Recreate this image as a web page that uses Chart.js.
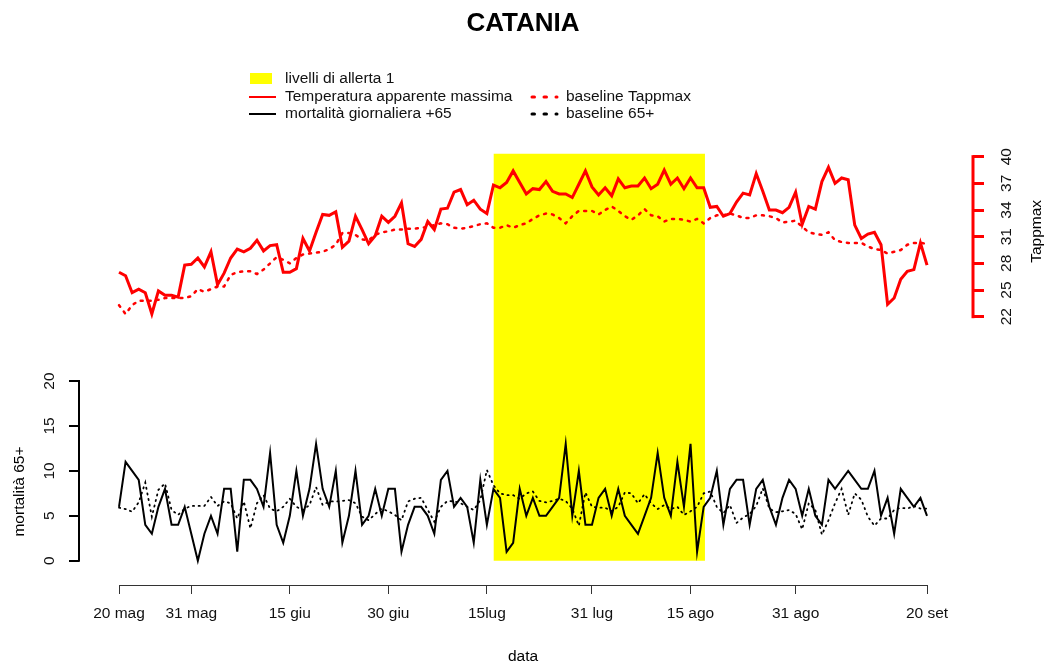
<!DOCTYPE html>
<html>
<head>
<meta charset="utf-8">
<title>CATANIA</title>
<script src="https://cdn.jsdelivr.net/npm/chart.js@4.4.1/dist/chart.umd.min.js"></script>
<style>
  html, body { margin: 0; padding: 0; background: #fff; }
  #wrap { width: 1046px; height: 663px; }
</style>
</head>
<body>
<div id="wrap"><canvas id="grafico" width="1046" height="663"></canvas></div>
<script>
// Catania, 20 maggio - 20 settembre: valori (un valore al giorno)

const tappmax = [
    27.0, 26.6, 24.7, 25.1, 24.7, 22.3, 24.9, 24.4, 24.4, 24.2,
    27.8, 27.9, 28.6, 27.6, 29.3, 25.6, 26.9, 28.6, 29.6, 29.3,
    29.7, 30.6, 29.4, 30.0, 30.1, 27.0, 27.0, 27.4, 30.8, 29.4,
    31.5, 33.5, 33.4, 33.8, 29.8, 30.5, 33.3, 31.8, 30.2, 31.1,
    33.3, 32.6, 33.3, 34.8, 30.2, 29.9, 30.7, 32.7, 31.8, 34.1,
    34.2, 36.0, 36.3, 34.6, 35.1, 34.1, 33.6, 36.8, 36.5, 37.1,
    38.4, 37.1, 35.8, 36.4, 36.3, 37.2, 36.1, 35.8, 35.8, 35.4,
    36.9, 38.4, 36.6, 35.7, 36.5, 35.6, 37.5, 36.5, 36.7, 36.7,
    37.6, 36.4, 36.9, 38.5, 36.9, 37.6, 36.4, 37.6, 36.5, 36.5,
    34.3, 34.4, 33.3, 33.6, 34.9, 35.9, 35.7, 38.1, 36.1, 34.0,
    34.0, 33.7, 34.3, 36.0, 32.4, 34.4, 34.1, 37.2, 38.8, 37.0,
    37.6, 37.4, 32.3, 30.8, 31.3, 31.5, 30.1, 23.4, 24.1, 26.2,
    27.1, 27.3, 30.3, 27.8
];

const baselineTappmax = [
    23.3, 22.3, 23.3, 23.8, 23.8, 23.8, 23.9, 24.1, 24.1, 24.1,
    24.1, 24.3, 25.1, 24.8, 25.1, 25.4, 25.4, 26.7, 27.0, 27.1,
    27.1, 26.8, 27.3, 28.0, 28.7, 28.4, 28.0, 28.6, 29.0, 29.1,
    29.2, 29.3, 29.6, 30.1, 31.4, 31.4, 31.2, 30.7, 30.6, 31.2,
    31.5, 31.6, 31.8, 31.8, 31.9, 31.9, 32.0, 32.1, 32.3, 32.5,
    32.4, 32.0, 31.9, 32.0, 32.2, 32.4, 32.5, 32.0, 32.0, 32.3,
    32.0, 32.3, 32.5, 33.0, 33.4, 33.6, 33.5, 33.1, 32.5, 33.3,
    33.9, 33.9, 33.9, 33.5, 34.0, 34.4, 33.9, 33.3, 32.9, 33.4,
    34.1, 33.4, 33.3, 32.7, 33.0, 33.0, 32.9, 32.7, 33.0, 32.5,
    33.1, 33.4, 33.4, 33.6, 33.4, 33.1, 33.1, 33.4, 33.4, 33.3,
    33.1, 32.6, 32.7, 32.8, 32.1, 31.5, 31.3, 31.2, 31.5, 30.6,
    30.4, 30.3, 30.3, 30.3, 29.9, 29.6, 29.5, 29.1, 29.3, 29.5,
    30.1, 30.3, 30.3, 30.2
];

const mortalita65 = [
    6, 11, 10, 9, 4, 3, 6, 8, 4, 4,
    6, 3, 0, 3, 5, 3, 8, 8, 1, 9,
    9, 8, 6, 12, 4, 2, 5, 10, 5, 8,
    13, 8, 6, 10, 2, 5, 10, 4, 5, 8,
    5, 8, 8, 1, 4, 6, 6, 5, 3, 9,
    10, 6, 7, 6, 2, 9, 4, 8, 7, 1,
    2, 8, 5, 7, 5, 5, 6, 7, 13, 5,
    10, 4, 4, 7, 8, 5, 8, 5, 4, 3,
    5, 7, 12, 7, 5, 11, 6, 13, 1, 6,
    7, 10, 4, 8, 9, 9, 4, 8, 9, 6,
    4, 7, 9, 8, 5, 8, 5, 4, 9, 8,
    9, 10, 9, 8, 8, 10, 5, 7, 3, 8,
    7, 6, 7, 5
];

const baseline65 = [
    5.9, 5.75, 5.46, 6.5, 8.7, 4.9, 7.9, 8.6, 5.65, 5.1,
    5.8, 6.1, 6.1, 6.1, 7.1, 6.1, 6.6, 6.4, 4.7, 6.6,
    3.6, 6.4, 7.3, 5.8, 5.5, 6.0, 6.9, 6.0, 5.65, 6.2,
    8.2, 6.2, 6.6, 6.6, 6.65, 6.75, 6.4, 4.9, 4.5, 5.2,
    5.8, 5.5, 5.1, 4.5, 6.6, 6.9, 7.0, 5.65, 4.35, 6.0,
    6.65, 6.6, 6.4, 6.0, 5.65, 6.75, 10.1, 8.4, 7.5, 7.3,
    7.3, 6.9, 7.5, 7.7, 6.65, 6.5, 6.65, 6.9, 6.65, 5.8,
    3.9, 7.6, 6.0, 5.9, 5.9, 5.5, 6.0, 7.6, 7.5, 6.4,
    7.4, 6.4, 5.75, 6.2, 5.75, 6.0, 5.1, 5.5, 6.0, 7.5,
    7.7, 6.0, 5.3, 6.2, 4.2, 4.8, 5.2, 6.1, 8.05, 5.8,
    5.4, 5.5, 5.65, 5.2, 3.5, 6.4, 5.65, 2.9, 4.5, 6.4,
    8.0, 5.1, 7.5, 6.8, 4.9, 3.9, 4.7, 4.7, 5.65, 5.9,
    5.8, 6.1, 5.8, 5.8
];

// periodo con livello di allerta 1 (giorni dal 20 maggio) e altezza del riquadro
const allerta1 = [57, 89.2];
const altezzaAllerta = 45.3;

// etichette dell'asse dei tempi
const tickGiorni = [0, 11, 26, 41, 56, 72, 87, 103, 123];
const tickEtichette = ['20 mag', '31 mag', '15 giu', '30 giu', '15lug', '31 lug', '15 ago', '31 ago', '20 set'];
const tickMortalita = [0, 5, 10, 15, 20];
const tickTappmax = [22, 25, 28, 31, 34, 37, 40];

const FAMIGLIA = '"Liberation Sans", Arial, Helvetica, sans-serif';
const ROSSO = '#ff0000';
const GIALLO = '#ffff00';

function punti(serie) {
    return serie.map((v, i) => ({ x: i, y: v }));
}

function fissaTicks(valori) {
    return (scale) => { scale.ticks = valori.map(v => ({ value: v })); };
}

// assi "alla R": la linea copre solo l'intervallo dei tick
const assiParziali = {
    id: 'assiParziali',
    afterDraw(chart) {
        const { ctx, chartArea } = chart;
        const sx = chart.scales.x, sy = chart.scales.y, sy2 = chart.scales.y2;
        ctx.save();
        ctx.lineCap = 'butt';

        ctx.strokeStyle = '#333';
        ctx.lineWidth = 1;
        ctx.beginPath();
        ctx.moveTo(sx.getPixelForValue(tickGiorni[0]), chartArea.bottom + 0.5);
        ctx.lineTo(sx.getPixelForValue(tickGiorni[tickGiorni.length - 1]), chartArea.bottom + 0.5);
        ctx.stroke();

        ctx.strokeStyle = '#000';
        ctx.lineWidth = 2;
        ctx.beginPath();
        ctx.moveTo(chartArea.left, sy.getPixelForValue(tickMortalita[0]) + 1);
        ctx.lineTo(chartArea.left, sy.getPixelForValue(tickMortalita[tickMortalita.length - 1]) - 1);
        ctx.stroke();

        ctx.strokeStyle = ROSSO;
        ctx.lineWidth = 3;
        ctx.beginPath();
        ctx.moveTo(chartArea.right, sy2.getPixelForValue(tickTappmax[0]) + 1.5);
        ctx.lineTo(chartArea.right, sy2.getPixelForValue(tickTappmax[tickTappmax.length - 1]) - 1.5);
        ctx.stroke();

        // titoli degli assi
        ctx.fillStyle = '#000';
        ctx.font = '15.5px ' + FAMIGLIA;
        ctx.textAlign = 'center';
        ctx.textBaseline = 'middle';
        ctx.fillText('data', sx.getPixelForValue(61.5), 657);

        ctx.save();
        ctx.translate(20, sy.getPixelForValue(7.7));
        ctx.rotate(-Math.PI / 2);
        ctx.fillText('mortalità 65+', 0, 0);
        ctx.restore();

        ctx.save();
        ctx.translate(1037, sy2.getPixelForValue(31.6));
        ctx.rotate(-Math.PI / 2);
        ctx.fillText('Tappmax', 0, 0);
        ctx.restore();

        ctx.restore();
    }
};

// legenda su due colonne come in R
const legendaR = {
    id: 'legendaR',
    afterDraw(chart) {
        const ctx = chart.ctx;
        const ds = chart.data.datasets;
        const colX = [249, 530];
        const rigaY = [79, 97, 114];
        const voci = [
            { i: 4, col: 0, riga: 0 },
            { i: 2, col: 0, riga: 1 },
            { i: 3, col: 1, riga: 1 },
            { i: 0, col: 0, riga: 2 },
            { i: 1, col: 1, riga: 2 }
        ];
        ctx.save();
        ctx.font = '15.5px ' + FAMIGLIA;
        ctx.textBaseline = 'middle';
        ctx.textAlign = 'left';
        voci.forEach(v => {
            const d = ds[v.i];
            const x = colX[v.col];
            const y = rigaY[v.riga];
            if (v.i === 4) {
                ctx.fillStyle = d.backgroundColor;
                ctx.fillRect(x + 1, y - 6, 22, 11);
            } else {
                ctx.strokeStyle = d.borderColor;
                ctx.lineWidth = d.borderDash ? 3 : 2;
                ctx.lineCap = d.borderDash ? 'round' : 'butt';
                ctx.setLineDash(d.borderDash ? [2.5, 9.5] : []);
                ctx.beginPath();
                ctx.moveTo(x + (d.borderDash ? 2 : 0), y);
                ctx.lineTo(x + 27, y);
                ctx.stroke();
                ctx.setLineDash([]);
            }
            ctx.fillStyle = '#111';
            ctx.fillText(d.label, x + 36, y);
        });
        ctx.restore();
    }
};

new Chart(document.getElementById('grafico'), {
    type: 'line',
    data: {
        datasets: [
            {
                label: 'mortalità giornaliera +65',
                data: punti(mortalita65),
                yAxisID: 'y',
                borderColor: '#000',
                borderWidth: 2,
                pointRadius: 0,
                tension: 0,
                order: 0
            },
            {
                label: 'baseline 65+',
                data: punti(baseline65),
                yAxisID: 'y',
                borderColor: '#000',
                borderWidth: 1.8,
                borderDash: [1.2, 4.5],
                borderCapStyle: 'round',
                pointRadius: 0,
                tension: 0,
                order: 0
            },
            {
                label: 'Temperatura apparente massima',
                data: punti(tappmax),
                yAxisID: 'y2',
                borderColor: ROSSO,
                borderWidth: 3,
                pointRadius: 0,
                tension: 0,
                order: 0
            },
            {
                label: 'baseline Tappmax',
                data: punti(baselineTappmax),
                yAxisID: 'y2',
                borderColor: ROSSO,
                borderWidth: 2.5,
                borderDash: [2, 6],
                borderCapStyle: 'round',
                pointRadius: 0,
                tension: 0,
                order: 0
            },
            {
                label: 'livelli di allerta 1',
                data: [{ x: allerta1[0], y: altezzaAllerta }, { x: allerta1[1], y: altezzaAllerta }],
                yAxisID: 'y',
                borderColor: 'rgba(0,0,0,0)',
                borderWidth: 0,
                backgroundColor: GIALLO,
                fill: { value: 0 },
                pointRadius: 0,
                order: 10
            }
        ]
    },
    options: {
        responsive: false,
        animation: false,
        devicePixelRatio: 1,
        events: [],
        layout: { padding: 0, autoPadding: false },
        plugins: {
            legend: { display: false },
            tooltip: { enabled: false },
            title: {
                display: true,
                text: 'CATANIA',
                color: '#000',
                font: { family: FAMIGLIA, size: 26, weight: 'bold' },
                padding: { top: 8.4, bottom: 110.4 }
            }
        },
        scales: {
            x: {
                type: 'linear',
                position: 'bottom',
                min: -6.09,
                max: 130.0,
                afterBuildTicks: fissaTicks(tickGiorni),
                afterFit: (s) => { s.height = 78; },
                border: { display: false },
                grid: { drawOnChartArea: false, drawTicks: true, tickLength: 9, color: '#333', lineWidth: 1 },
                ticks: {
                    autoSkip: false,
                    maxRotation: 0,
                    padding: 10,
                    color: '#111',
                    font: { family: FAMIGLIA, size: 15.5 },
                    callback: (v) => tickEtichette[tickGiorni.indexOf(v)]
                }
            },
            y: {
                type: 'linear',
                position: 'left',
                min: -2.70,
                max: 45.71,
                afterBuildTicks: fissaTicks(tickMortalita),
                afterFit: (s) => { s.width = 79; },
                border: { display: false },
                grid: { drawOnChartArea: false, drawTicks: true, tickLength: 10, color: '#000', lineWidth: 2 },
                ticks: {
                    minRotation: 90,
                    maxRotation: 90,
                    crossAlign: 'center',
                    padding: 10.4,
                    color: '#111',
                    font: { family: FAMIGLIA, size: 15.5 }
                }
            },
            y2: {
                type: 'linear',
                position: 'right',
                min: -8.18,
                max: 40.75,
                afterBuildTicks: fissaTicks(tickTappmax),
                afterFit: (s) => { s.width = 73; },
                border: { display: false },
                grid: { drawOnChartArea: false, drawTicks: true, tickLength: 11, color: ROSSO, lineWidth: 3 },
                ticks: {
                    minRotation: 90,
                    maxRotation: 90,
                    crossAlign: 'center',
                    padding: 14.4,
                    color: '#111',
                    font: { family: FAMIGLIA, size: 15.5 }
                }
            }
        }
    },
    plugins: [assiParziali, legendaR]
});
</script>
</body>
</html>
